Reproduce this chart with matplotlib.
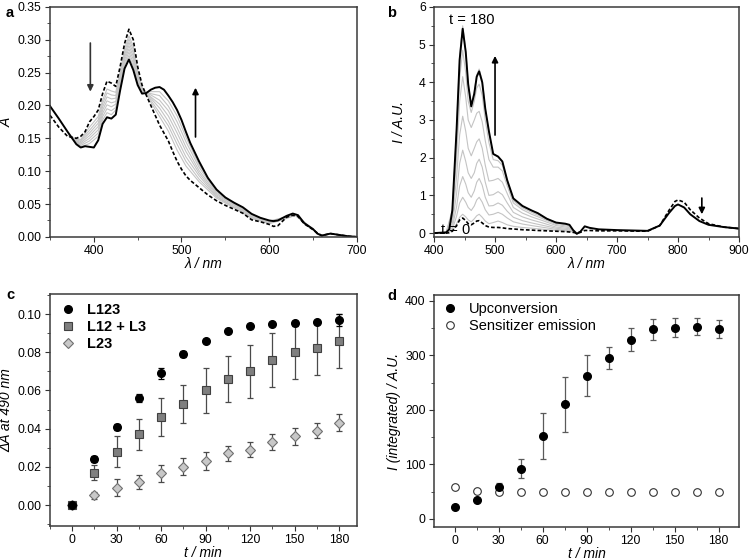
import matplotlib
matplotlib.use('Agg')
import matplotlib.pyplot as plt
import matplotlib.ticker as mticker

# ─── Panel a: absorption spectra ─────────────────────────────────────────────

wl_a = [350, 360, 370, 380, 385, 390, 395, 400, 405, 410, 415, 420, 425, 430, 435,
        440, 445, 450, 455, 460, 465, 470, 475, 480, 485, 490, 495, 500, 505, 510,
        520, 530, 540, 550, 560, 570, 580, 590, 600, 605, 610, 620, 627, 633, 640,
        650, 655, 660, 670, 680, 690, 700]
abs_end = [.199, .18, .16, .141, .136, .138, .137, .136, .147, .172, .182, .18, .186, .223, .256,
           .27, .254, .231, .218, .219, .224, .227, .228, .224, .215, .205, .193, .178, .16, .143,
           .115, .09, .072, .06, .052, .045, .035, .029, .025, .024, .025, .032, .0355, .033, .021,
           .012, .005, .002, .005, .003, .001, 0]
abs_start = [.185, .167, .153, .15, .153, .16, .175, .183, .193, .218, .237, .234, .229, .259, .294,
             .316, .3, .259, .231, .215, .2, .185, .17, .158, .146, .13, .115, .103, .093, .086,
             .075, .064, .055, .048, .042, .036, .026, .023, .019, .016, .017, .03, .033, .031, .02,
             .011, .006, .002, .005, .003, .001, 0]

wl_a_gray = [372, 385, 395, 405, 410, 415, 420, 425, 430, 435, 440, 445, 450, 455,
             465, 475, 485, 495, 505, 520, 540, 560, 580, 600, 615, 630, 645]
abs_gray = [
    [.153, .148, .167, .183, .208, .225, .222, .220, .251, .286, .306, .290, .253, .228,
     .205, .183, .161, .132, .108, .084, .059, .044, .028, .020, .026, .033, .015],
    [.153, .147, .162, .178, .203, .219, .216, .215, .247, .281, .301, .285, .250, .227,
     .208, .189, .169, .141, .115, .088, .061, .045, .029, .021, .026, .033, .016],
    [.154, .145, .158, .173, .198, .213, .210, .211, .243, .277, .296, .280, .247, .225,
     .211, .196, .176, .149, .122, .093, .062, .046, .030, .021, .027, .033, .016],
    [.154, .143, .154, .168, .193, .207, .204, .206, .239, .273, .291, .275, .244, .224,
     .213, .202, .184, .158, .130, .097, .064, .048, .031, .022, .027, .033, .016],
    [.155, .141, .150, .163, .188, .201, .198, .202, .235, .269, .286, .270, .241, .222,
     .216, .208, .192, .166, .137, .101, .066, .049, .032, .022, .028, .034, .016],
    [.155, .139, .146, .158, .183, .195, .192, .197, .231, .265, .281, .265, .237, .221,
     .218, .215, .199, .175, .145, .106, .068, .050, .033, .024, .028, .034, .017],
    [.156, .137, .142, .153, .178, .189, .186, .193, .227, .261, .276, .260, .234, .220,
     .221, .221, .207, .184, .152, .110, .070, .051, .034, .024, .029, .034, .017],
]

# ─── Panel b: emission spectra ───────────────────────────────────────────────

wl_b = [400, 420, 425, 430, 437, 442, 447, 452, 456, 461, 466, 470, 474, 479, 484,
        490, 497, 505, 512, 520, 530, 545, 560, 570, 585, 600, 615, 622, 628, 634,
        640, 647, 655, 670, 700, 750, 770, 785, 795, 800, 810, 820, 835, 850, 875, 900]
em_end = [0, .02, .1, .6, 2.75, 4.6, 5.42, 4.8, 3.95, 3.36, 3.7, 4.15, 4.29, 4.0, 3.3,
          2.7, 2.1, 2.03, 1.9, 1.4, .92, .72, .6, .53, .38, .28, .25, .22, .08, -.02,
          .04, .18, .14, .1, .08, .06, .2, .53, .72, .76, .68, .5, .32, .22, .16, .12]
em_start = [0, .0, .01, .05, .2, .35, .4, .33, .25, .22, .27, .32, .33, .27, .2,
            .16, .15, .15, .14, .12, .11, .09, .08, .07, .06, .05, .04, .03, .02, 0,
            .02, .07, .07, .06, .06, .05, .2, .6, .84, .88, .82, .62, .4, .25, .16, .12]

wl_b_gray = [420, 430, 437, 442, 447, 452, 456, 461, 466, 470, 474, 479, 484, 490,
             497, 505, 512, 520, 530, 545, 560, 580, 600, 620, 628, 634, 640]
em_gray = [
    [0, .06, .25, .42, .5, .43, .35, .3, .38, .46, .5, .42, .32, .25,
     .28, .32, .28, .22, .18, .15, .13, .1, .07, .05, .03, 0, .03],
    [0, .1, .45, .8, .95, .82, .68, .6, .72, .88, .95, .82, .62, .48,
     .5, .55, .5, .4, .3, .24, .2, .15, .1, .07, .04, 0, .03],
    [.01, .15, .7, 1.25, 1.5, 1.3, 1.07, .95, 1.12, 1.35, 1.45, 1.27, .95, .72,
     .73, .8, .74, .58, .42, .33, .27, .2, .13, .09, .05, 0, .03],
    [.01, .25, 1.05, 1.85, 2.2, 1.9, 1.6, 1.45, 1.6, 1.85, 1.96, 1.75, 1.35, 1.0,
     1.02, 1.1, 1.02, .8, .55, .43, .35, .26, .16, .12, .06, 0, .03],
    [.01, .35, 1.5, 2.6, 3.1, 2.7, 2.25, 2.05, 2.25, 2.42, 2.5, 2.25, 1.8, 1.38,
     1.4, 1.45, 1.35, 1.05, .68, .53, .43, .32, .2, .15, .07, 0, .03],
    [.02, .45, 2.0, 3.5, 4.15, 3.6, 3.0, 2.8, 3.0, 3.18, 3.23, 2.95, 2.45, 1.95,
     1.75, 1.75, 1.65, 1.25, .8, .62, .5, .37, .23, .18, .07, 0, .03],
    [.02, .55, 2.4, 4.1, 4.85, 4.25, 3.5, 3.2, 3.5, 3.85, 3.95, 3.65, 3.0, 2.4,
     1.95, 1.92, 1.8, 1.35, .86, .67, .55, .4, .26, .21, .08, 0, .04],
    [.02, .62, 2.75, 4.7, 5.5, 4.85, 3.95, 3.4, 3.75, 4.2, 4.35, 4.05, 3.3, 2.65,
     2.1, 2.02, 1.9, 1.4, .9, .7, .6, .42, .28, .23, .08, 0, .04],
]

# ─── Panel c: ΔA at 490 nm ───────────────────────────────────────────────────

t_min = [0, 15, 30, 45, 60, 75, 90, 105, 120, 135, 150, 165, 180]
dA_L123 = [0, .024, .041, .056, .069, .079, .086, .091, .094, .095, .0955, .096, .097]
dA_L123_err = [.0005, .0015, .0015, .002, .003, .0015, .001, .001, .001, .001, .001, .001, .003]
dA_L12_L3 = [0, .017, .028, .037, .046, .053, .060, .066, .070, .076, .080, .082, .086]
dA_L12_L3_err = [0, .004, .008, .008, .010, .010, .012, .012, .014, .014, .014, .014, .014]
dA_L23 = [0, .005, .009, .012, .0165, .020, .023, .027, .029, .033, .036, .039, .043]
dA_L23_err = [0, .002, .0045, .0035, .0045, .0045, .0045, .004, .004, .004, .0045, .004, .0045]

# ─── Panel d: integrated intensities ─────────────────────────────────────────

I_upconv = [22, 35, 58, 92, 152, 210, 263, 296, 329, 348, 351, 353, 349]
I_upconv_err = [3, 4, 7, 17, 43, 51, 37, 20, 21, 19, 17, 15, 17]
I_sens = [59, 52, 50, 49, 48.5, 48.5, 49, 49.5, 49.5, 49.5, 49.5, 49.5, 49.5]
I_sens_err = [3, 2, 2, 2, 2, 2, 2, 2, 2, 2, 2, 2, 2]

COLORS = {
    'cinza_claro': '#c4c4c4',
    'cinza': '#7f7f7f',
    'cinza_escuro': '#4a4a4a',
    'borda': '#3a3a3a',
}

plt.rcParams.update({
    'font.family': ['Liberation Sans', 'DejaVu Sans'],
    'font.size': 8.8,
    'axes.edgecolor': COLORS['borda'],
    'axes.linewidth': 1.1,
    'xtick.direction': 'out',
    'ytick.direction': 'out',
    'xtick.major.size': 3.5,
    'ytick.major.size': 3.5,
    'xtick.minor.size': 2,
    'ytick.minor.size': 2,
    'xtick.major.pad': 2.5,
    'ytick.major.pad': 2.5,
    'xtick.color': '#333333',
    'ytick.color': '#333333',
    'xtick.labelcolor': 'black',
    'ytick.labelcolor': 'black',
})

LABEL_KW = dict(fontsize=10, fontstyle='italic')


def _frame(ax, xmaj, xmin, ymaj, ymin):
    ax.xaxis.set_major_locator(mticker.MultipleLocator(xmaj))
    ax.xaxis.set_minor_locator(mticker.MultipleLocator(xmin))
    ax.yaxis.set_major_locator(mticker.MultipleLocator(ymaj))
    ax.yaxis.set_minor_locator(mticker.MultipleLocator(ymin))
    ax.tick_params(which='both', top=False, right=False)


def _arrow(ax, tail, tip, color='black'):
    ax.annotate('', xy=tip, xytext=tail,
                arrowprops=dict(arrowstyle='-|>', color=color, lw=1.2,
                                mutation_scale=9, shrinkA=0, shrinkB=0))


fig = plt.figure(figsize=(7.5, 5.6), dpi=100)

# a
ax = fig.add_axes([0.0667, 0.577, 0.409, 0.4107])
for g in abs_gray:
    ax.plot(wl_a_gray, g, color=COLORS['cinza_claro'], lw=0.8)
ax.plot(wl_a, abs_start, color='black', lw=1.2, ls=(0, (2.2, 1.3)))
ax.plot(wl_a, abs_end, color='black', lw=1.4)
_arrow(ax, (396, 0.295), (396, 0.221), '#333333')
_arrow(ax, (516, 0.152), (516, 0.227))
ax.set_xlim(350, 700)
ax.set_ylim(0, 0.35)
_frame(ax, 100, 50, 0.05, 0.025)
ax.yaxis.set_major_formatter(mticker.FormatStrFormatter('%.2f'))
ax.set_xlabel('λ / nm', labelpad=0, **LABEL_KW)
ax.set_ylabel('A', labelpad=3, **LABEL_KW)

# b
ax = fig.add_axes([0.5787, 0.577, 0.4067, 0.4107])
for g in em_gray:
    ax.plot(wl_b_gray, g, color=COLORS['cinza_claro'], lw=0.8)
ax.plot(wl_b, em_start, color='black', lw=1.2, ls=(0, (2.2, 1.3)))
ax.plot(wl_b, em_end, color='black', lw=1.4)
_arrow(ax, (500, 2.6), (500, 4.7))
_arrow(ax, (839, 0.93), (839, 0.5))
ax.text(424, 5.66, 't = 180', fontsize=10.5, ha='left', va='center', zorder=6)
ax.text(411, 0.09, 't = 0', fontsize=10.5, ha='left', va='center', zorder=6)
ax.set_xlim(400, 900)
ax.set_ylim(-0.1, 6)
_frame(ax, 100, 50, 1, 0.5)
ax.set_xlabel('λ / nm', labelpad=0, **LABEL_KW)
ax.set_ylabel('I / A.U.', labelpad=9, **LABEL_KW)

# c
ax = fig.add_axes([0.0667, 0.0607, 0.409, 0.4143])
ax.errorbar(t_min, dA_L12_L3, yerr=dA_L12_L3_err, fmt='none', ecolor=COLORS['cinza_escuro'],
            elinewidth=0.9, capsize=2.5, capthick=0.9)
ax.errorbar(t_min, dA_L23, yerr=dA_L23_err, fmt='none', ecolor=COLORS['cinza_escuro'],
            elinewidth=0.9, capsize=2.5, capthick=0.9)
ax.errorbar(t_min, dA_L123, yerr=dA_L123_err, fmt='none', ecolor='black',
            elinewidth=0.9, capsize=2.5, capthick=0.9)
h23, = ax.plot(t_min, dA_L23, 'D', mfc='#c8c8c8', mec='#707070', mew=0.8, ms=4.8)
h12, = ax.plot(t_min, dA_L12_L3, 's', mfc=COLORS['cinza'], mec='#404040', mew=0.8, ms=5.5)
h123, = ax.plot(t_min, dA_L123, 'o', color='black', ms=5.5)
ax.set_xlim(-15, 192)
ax.set_ylim(-0.011, 0.1105)
_frame(ax, 30, 15, 0.02, 0.01)
ax.yaxis.set_major_formatter(mticker.FormatStrFormatter('%.2f'))
ax.legend([h123, h12, h23], ['L123', 'L12 + L3', 'L23'], loc='upper left', frameon=False,
          prop=dict(weight='bold', size=10.5), handletextpad=0.7, borderaxespad=0.25,
          labelspacing=0.2, handlelength=1.2)
ax.set_xlabel('t / min', labelpad=0, **LABEL_KW)
ax.set_ylabel('ΔA at 490 nm', labelpad=3, **LABEL_KW)

# d
ax = fig.add_axes([0.5787, 0.0589, 0.4067, 0.4143])
ax.errorbar(t_min, I_sens, yerr=I_sens_err, fmt='none', ecolor='#777777',
            elinewidth=0.8, capsize=2, capthick=0.8)
ax.errorbar(t_min, I_upconv, yerr=I_upconv_err, fmt='none', ecolor='#5a5a5a',
            elinewidth=0.9, capsize=2.5, capthick=0.9)
hs, = ax.plot(t_min, I_sens, 'o', mfc='white', mec='#333333', mew=0.8, ms=5.5)
hu, = ax.plot(t_min, I_upconv, 'o', color='black', ms=5.5)
ax.legend([hu, hs], ['Upconversion', 'Sensitizer emission'], loc='upper left', frameon=False,
          fontsize=10.5, handletextpad=0.7, borderaxespad=0.1, labelspacing=0.2,
          handlelength=1.2)
ax.set_xlim(-14, 194)
ax.set_ylim(-15, 411)
_frame(ax, 30, 15, 100, 50)
ax.set_xlabel('t / min', labelpad=0, **LABEL_KW)
ax.set_ylabel('I (integrated) / A.U.', labelpad=3, **LABEL_KW)

for letter, x, y in [('a', 0.008, 0.976), ('b', 0.516, 0.976), ('c', 0.008, 0.474), ('d', 0.516, 0.472)]:
    fig.text(x, y, letter, fontsize=10.5, fontweight='bold', ha='left', va='center')

fig.savefig('out.png', dpi=100)
